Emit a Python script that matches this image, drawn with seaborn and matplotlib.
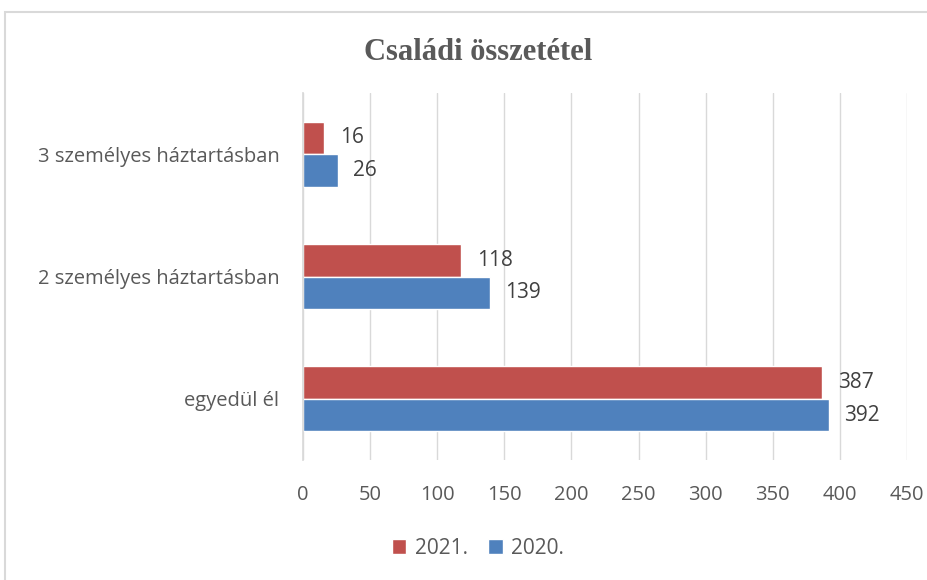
import matplotlib
matplotlib.use("Agg")
import matplotlib.pyplot as plt
import seaborn as sns
import pandas as pd
from matplotlib.patches import Rectangle, Patch

categories = ["3 személyes háztartásban", "2 személyes háztartásban", "egyedül él"]
years = ["2021.", "2020."]
values_2021 = [16, 118, 387]
values_2020 = [26, 139, 392]
xticks = [0, 50, 100, 150, 200, 250, 300, 350, 400, 450]
title = "Családi összetétel"

colors = {"2021.": "#C0504D", "2020.": "#4F81BD"}

df = pd.DataFrame({
    "cat": categories * 2,
    "year": ["2021."] * 3 + ["2020."] * 3,
    "val": values_2021 + values_2020,
})

sns.set_theme(style="white")
plt.rcParams["font.family"] = ["Open Sans", "DejaVu Sans"]

fig = plt.figure(figsize=(9.28, 5.8), dpi=100)
ax = fig.add_axes([303/928, 1 - 460/580, (907-303)/928, (460-93)/580])

sns.barplot(data=df, y="cat", x="val", hue="year", order=categories,
            hue_order=years, palette=colors, orient="h", width=0.53,
            saturation=1, ax=ax, legend=False)

ax.set_xlim(0, 450)
ax.set_xticks(xticks)
ax.set_xticklabels([str(t) for t in xticks])
ax.set_xlabel("")
ax.set_ylabel("")
ax.set_ylim(2.5, -0.5)
ax.grid(axis="x", color="#D9D9D9", linewidth=1)
ax.set_axisbelow(True)
for s in ["top", "right", "bottom"]:
    ax.spines[s].set_visible(False)
ax.spines["left"].set_color("#D9D9D9")
ax.tick_params(axis="both", length=0, labelsize=14.5, colors="#595959")
ax.tick_params(axis="x", pad=18)
ax.tick_params(axis="y", pad=17)

for cont in ax.containers:
    ax.bar_label(cont, fmt="%d", padding=11, fontsize=15, color="#404040")

fig.text(478/928, 1 - 52/580, title, ha="center", va="center",
         fontsize=22, fontweight="bold", color="#595959",
         family=["Liberation Serif", "DejaVu Serif"])

handles = [Patch(facecolor=colors[y], label=y) for y in years]
fig.legend(handles=handles, loc="center", bbox_to_anchor=(478/928, 1 - 548/580),
           ncol=2, frameon=False, fontsize=15, labelcolor="#595959",
           handlelength=0.7, handleheight=0.7, handletextpad=0.4, columnspacing=1.0)

fig.patches.append(Rectangle((5/928, -0.05), 1.0, 1 - 12/580 + 0.05,
                             transform=fig.transFigure, fill=False,
                             edgecolor="#D9D9D9", linewidth=1.5))

fig.savefig("out.png", dpi=100)
